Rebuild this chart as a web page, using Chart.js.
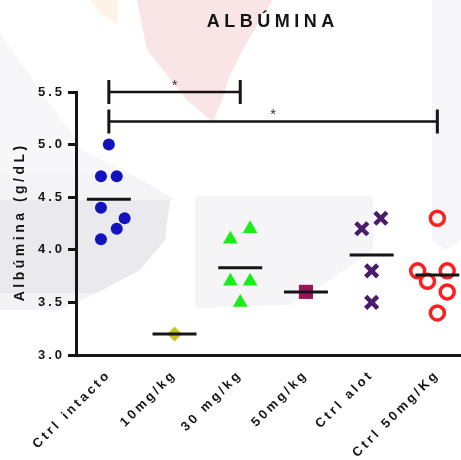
<!DOCTYPE html>
<html>
<head>
<meta charset="utf-8">
<script src="https://cdn.jsdelivr.net/npm/chart.js@4"></script>
<style>
  html, body { margin: 0; padding: 0; background: #fff; overflow: hidden; }
  #wrap { width: 461px; height: 460px; position: relative; }
</style>
</head>
<body>
<div id="wrap"><canvas id="albumina"></canvas></div>
<script>
const categorias = ['Ctrl intacto', '10mg/kg', '30 mg/kg', '50mg/kg', 'Ctrl alot', 'Ctrl 50mg/Kg'];

// albúmina (g/dL) por grupo
const ctrlIntacto = [5.0, 4.7, 4.7, 4.4, 4.3, 4.2, 4.1];
const dosis10 = [3.2];
const dosis30 = [4.1, 4.2, 3.7, 3.7, 3.5];
const dosis50 = [3.6];
const ctrlAlot = [4.2, 4.3, 3.8, 3.5];
const ctrl50 = [4.3, 3.8, 3.8, 3.7, 3.6, 3.4];

// desplazamiento horizontal de cada punto dentro de su columna
const jitIntacto = [0, -0.12, 0.12, -0.12, 0.24, 0.12, -0.12];
const jit10 = [0];
const jit30 = [-0.15, 0.15, -0.15, 0.15, 0];
const jit50 = [0];
const jitAlot = [-0.15, 0.14, 0, 0];
const jitCtrl50 = [0, -0.3, 0.15, -0.15, 0.15, 0];

// media de cada grupo
const medias = [4.48, 3.2, 3.83, 3.6, 3.95, 3.76];

// comparaciones significativas: columna inicial, final, altura
const significancia = [
  { desde: 0, hasta: 2, nivel: 5.5, texto: '*' },
  { desde: 0, hasta: 5, nivel: 5.22, texto: '*' }
];

const TINTA = '#151515';
const FUENTE = '"Liberation Sans", Arial, sans-serif';

function puntos(valores, jitter, columna) {
  return valores.map((v, i) => ({ x: columna + jitter[i], y: v }));
}

function dibujarEspaciado(ctx, texto, x, y, espacio) {
  ctx.letterSpacing = espacio + 'px';
  ctx.fillText(texto, x + espacio / 2, y);
}

// marca de agua tenue del fondo
function fondo(ctx, w, h) {
  ctx.fillStyle = '#fff';
  ctx.fillRect(0, 0, w, h);
  const poly = (pts, color) => {
    ctx.fillStyle = color;
    ctx.beginPath();
    pts.forEach((p, i) => i ? ctx.lineTo(p[0], p[1]) : ctx.moveTo(p[0], p[1]));
    ctx.closePath();
    ctx.fill();
  };
  poly([[0, 33], [40, 90], [83, 150], [133, 175], [0, 175]], '#F7F7F9');
  poly([[0, 175], [133, 175], [175, 200], [0, 200]], '#F4F4F7');
  poly([[0, 200], [170, 200], [165, 240], [140, 270], [97, 293], [0, 293]], '#E9E9EE');
  poly([[0, 293], [97, 293], [60, 310], [0, 310]], '#F3F3F6');
  poly([[195, 196], [373, 196], [373, 250], [330, 280], [290, 305], [195, 308]], '#F5F5F8');
  poly([[432, 0], [461, 0], [461, 240], [445, 250], [432, 240]], '#F6F6F8');
  poly([[137, 0], [147, 50], [187, 100], [213, 122], [222, 100], [230, 75], [248, 40], [273, 0]], '#F9E5E6');
  poly([[90, 0], [118, 0], [118, 25], [100, 14]], '#FDF4E8');
}

const textos = {
  id: 'textos',
  beforeLayout(chart) {
    chart.ctx.letterSpacing = '3px';
  },
  beforeDraw(chart) {
    const ctx = chart.ctx;
    ctx.save();
    fondo(ctx, chart.width, chart.height);
    ctx.restore();
    ctx.letterSpacing = '3px';
  },
  afterDraw(chart) {
    const ctx = chart.ctx;
    const { x, y } = chart.scales;
    const area = chart.chartArea;
    ctx.save();

    // corchetes de significancia
    ctx.strokeStyle = TINTA;
    ctx.fillStyle = '#333';
    significancia.forEach(s => {
      const x0 = x.getPixelForValue(s.desde);
      const x1 = x.getPixelForValue(s.hasta);
      const yy = y.getPixelForValue(s.nivel);
      ctx.lineWidth = 2.5;
      ctx.beginPath();
      ctx.moveTo(x0, yy);
      ctx.lineTo(x1, yy);
      ctx.stroke();
      ctx.lineWidth = 3;
      ctx.beginPath();
      ctx.moveTo(x0, yy - 12);
      ctx.lineTo(x0, yy + 12);
      ctx.moveTo(x1, yy - 12);
      ctx.lineTo(x1, yy + 12);
      ctx.stroke();
      ctx.font = '15px ' + FUENTE;
      ctx.textAlign = 'center';
      ctx.textBaseline = 'alphabetic';
      dibujarEspaciado(ctx, s.texto, (x0 + x1) / 2, yy - 2, 0);
    });

    // título
    ctx.fillStyle = TINTA;
    ctx.font = 'bold 18px ' + FUENTE;
    ctx.textAlign = 'center';
    ctx.textBaseline = 'middle';
    dibujarEspaciado(ctx, 'ALBÚMINA', (area.left + area.right) / 2 + 2, 22, 4.5);

    // título del eje y
    ctx.translate(20, (area.top + area.bottom) / 2);
    ctx.rotate(-Math.PI / 2);
    ctx.font = 'bold 14px ' + FUENTE;
    dibujarEspaciado(ctx, 'Albúmina (g/dL)', 0, 0, 3.5);
    ctx.restore();
    ctx.letterSpacing = '3px';
  }
};

const fuenteEjes = { family: FUENTE, size: 13, weight: 'bold' };

new Chart(document.getElementById('albumina'), {
  type: 'scatter',
  data: {
    datasets: [
      {
        label: 'Ctrl intacto', data: puntos(ctrlIntacto, jitIntacto, 0),
        pointStyle: 'circle', radius: 6, backgroundColor: '#1212BE', borderWidth: 0, order: 1
      },
      {
        label: '10mg/kg', data: puntos(dosis10, jit10, 1),
        pointStyle: 'rectRot', radius: 7.5, backgroundColor: '#C6C41E', borderWidth: 0, order: 1
      },
      {
        label: '30 mg/kg', data: puntos(dosis30, jit30, 2),
        pointStyle: 'triangle', radius: 8.5, backgroundColor: '#16F016', borderWidth: 0, order: 1
      },
      {
        label: '50mg/kg', data: puntos(dosis50, jit50, 3),
        pointStyle: 'rect', radius: 10, backgroundColor: '#9C1458', borderWidth: 0, order: 1
      },
      {
        label: 'Ctrl alot', data: puntos(ctrlAlot, jitAlot, 4),
        pointStyle: 'crossRot', radius: 8.5, borderColor: '#4A1C6C', borderWidth: 4.5, order: 1
      },
      {
        label: 'Ctrl 50mg/Kg', data: puntos(ctrl50, jitCtrl50, 5),
        pointStyle: 'circle', radius: 7, backgroundColor: 'rgba(0,0,0,0)',
        borderColor: '#FF1E1E', borderWidth: 3.5, order: 1
      },
      {
        label: 'Media', data: medias.map((m, i) => ({ x: i, y: m })),
        pointStyle: 'line', radius: 22, borderColor: TINTA, borderWidth: 3, order: 0
      }
    ]
  },
  options: {
    responsive: true,
    maintainAspectRatio: false,
    animation: false,
    events: [],
    layout: { autoPadding: false, padding: { top: 92, left: 0, right: 0, bottom: 0 } },
    plugins: {
      legend: { display: false },
      tooltip: { enabled: false }
    },
    scales: {
      x: {
        type: 'linear',
        min: -0.5,
        max: 5.36,
        afterBuildTicks: s => { s.ticks = categorias.map((c, i) => ({ value: i })); },
        afterFit: s => { s.height = 105; s.paddingRight = 0; s.paddingLeft = 0; },
        ticks: {
          callback: v => categorias[v],
          autoSkip: false,
          minRotation: 45,
          maxRotation: 45,
          padding: 12,
          color: TINTA,
          font: fuenteEjes
        },
        grid: { display: false, drawTicks: false },
        border: { display: true, width: 3, color: TINTA }
      },
      y: {
        min: 3,
        max: 5.5,
        afterFit: s => { s.width = 76; },
        ticks: {
          stepSize: 0.5,
          callback: v => v.toFixed(1),
          padding: 3,
          color: TINTA,
          font: fuenteEjes
        },
        grid: { display: true, drawOnChartArea: false, drawTicks: true, tickLength: 8, tickWidth: 3, tickColor: TINTA },
        border: { display: true, width: 3, color: TINTA }
      }
    }
  },
  plugins: [textos]
});
</script>
</body>
</html>
